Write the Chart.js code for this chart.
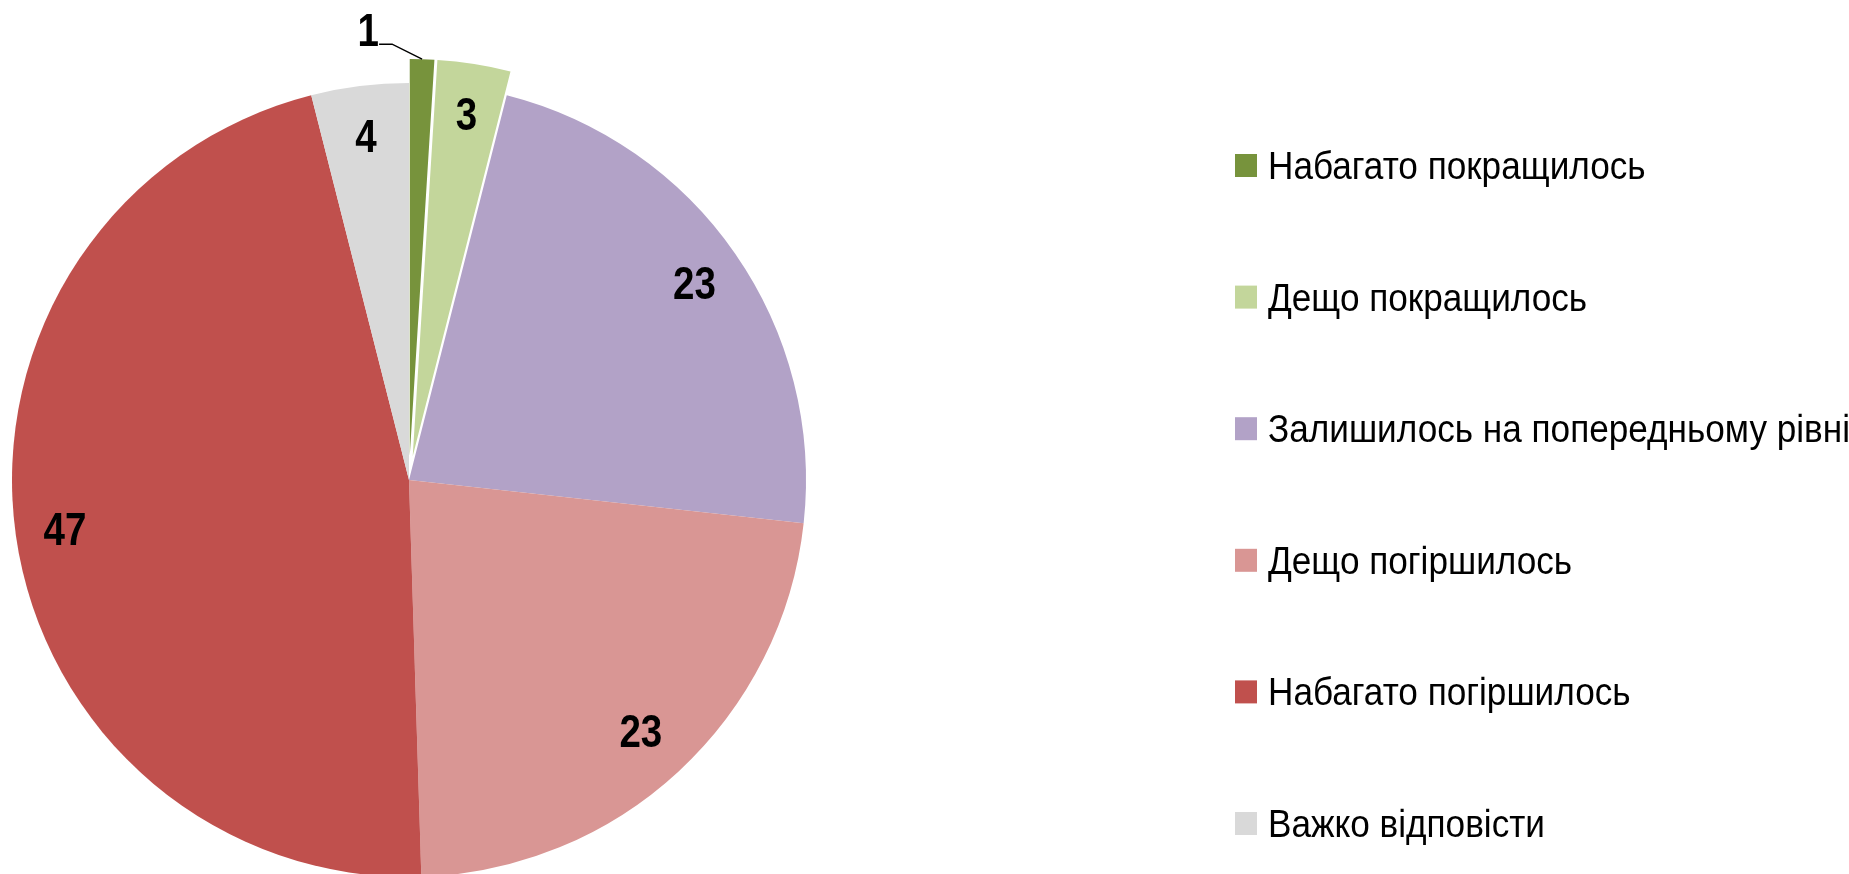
<!DOCTYPE html>
<html>
<head>
<meta charset="utf-8">
<script src="https://cdn.jsdelivr.net/npm/chart.js@4.4.0/dist/chart.umd.min.js"></script>
<style>
  html, body { margin: 0; padding: 0; background: #fff; overflow: hidden; }
  #wrap { position: relative; width: 1849px; height: 874px; }
</style>
</head>
<body>
<div id="wrap"><canvas id="myChart"></canvas></div>
<script>
  // data
  const categories = [
    'Набагато покращилось',
    'Дещо покращилось',
    'Залишилось на попередньому рівні',
    'Дещо погіршилось',
    'Набагато погіршилось',
    'Важко відповісти'
  ];
  const shares = [1, 3, 23, 23, 47, 4];
  const sliceColors = ['#77933C', '#C3D69B', '#B2A2C7', '#D99694', '#C0504D', '#D9D9D9'];

  // push chosen slices out from the centre (Excel style explode)
  const explodePlugin = {
    id: 'explode',
    afterDatasetUpdate(chart, args, opts) {
      const meta = chart.getDatasetMeta(args.index);
      (opts.slices || []).forEach(i => {
        const arc = meta.data[i];
        if (!arc) return;
        const mid = (arc.startAngle + arc.endAngle) / 2;
        arc.x += Math.cos(mid) * opts.distance;
        arc.y += Math.sin(mid) * opts.distance;
      });
    }
  };

  // value labels, inside end; tiny slices go outside with a leader line
  const valueLabels = {
    id: 'valueLabels',
    afterDatasetsDraw(chart) {
      const ctx = chart.ctx;
      const meta = chart.getDatasetMeta(0);
      const total = shares.reduce((a, b) => a + b, 0);
      ctx.save();
      ctx.fillStyle = '#000';
      ctx.strokeStyle = '#000';
      ctx.font = 'bold 47px "Liberation Sans", Arial, sans-serif';
      ctx.textAlign = 'center';
      ctx.textBaseline = 'alphabetic';
      meta.data.forEach((arc, i) => {
        const mid = (arc.startAngle + arc.endAngle) / 2;
        const R = arc.outerRadius;
        const txt = String(shares[i]);
        let lx, ly;
        if (shares[i] / total < 0.02) {
          const ex = arc.x + Math.cos(mid) * R;
          const ey = arc.y + Math.sin(mid) * R;
          const kx = ex - 30, ky = ey - 15;
          const hx = kx - 13;
          ctx.lineWidth = 1.5;
          ctx.beginPath();
          ctx.moveTo(ex, ey);
          ctx.lineTo(kx, ky);
          ctx.lineTo(hx, ky);
          ctx.stroke();
          lx = hx - 11;
          ly = ky - 15.5;
        } else {
          const k = i === 3 ? 0.86 : 0.875;
          lx = arc.x + Math.cos(mid) * R * k;
          ly = arc.y + Math.sin(mid) * R * k;
        }
        ctx.save();
        ctx.translate(lx, ly + 16.8);
        ctx.scale(0.82, 1);
        ctx.fillText(txt, 0, 0);
        ctx.restore();
      });
      ctx.restore();
    }
  };

  // legend on the right, one row per category
  const sideLegend = {
    id: 'sideLegend',
    afterDraw(chart, args, opts) {
      const ctx = chart.ctx;
      const colors = chart.data.datasets[0].backgroundColor;
      ctx.save();
      ctx.font = opts.fontSize + 'px "Liberation Sans", Arial, sans-serif';
      ctx.textAlign = 'left';
      ctx.textBaseline = 'alphabetic';
      chart.data.labels.forEach((lab, i) => {
        const cy = opts.top + i * opts.step;
        ctx.fillStyle = colors[i];
        ctx.fillRect(opts.left, cy - 11, 22, 23);
        ctx.fillStyle = '#000';
        ctx.save();
        ctx.translate(opts.left + 33, cy + 14);
        ctx.scale(opts.squeeze, 1);
        ctx.fillText(lab, 0, 0);
        ctx.restore();
      });
      ctx.restore();
    }
  };

  const ctx = document.getElementById('myChart').getContext('2d');
  const myChart = new Chart(ctx, {
    type: 'pie',
    data: {
      labels: categories,
      datasets: [{
        data: shares,
        backgroundColor: sliceColors,
        borderWidth: 0
      }]
    },
    options: {
      responsive: true,
      maintainAspectRatio: false,
      animation: false,
      radius: 397,
      layout: { padding: { left: 0, right: 1031, top: 86, bottom: 0 } },
      plugins: {
        legend: { display: false },
        tooltip: { enabled: false },
        explode: { distance: 24, slices: [0, 1] },
        sideLegend: { left: 1235, top: 165, step: 131.6, fontSize: 38, squeeze: 0.925 }
      }
    },
    plugins: [explodePlugin, valueLabels, sideLegend]
  });
</script>
</body>
</html>
